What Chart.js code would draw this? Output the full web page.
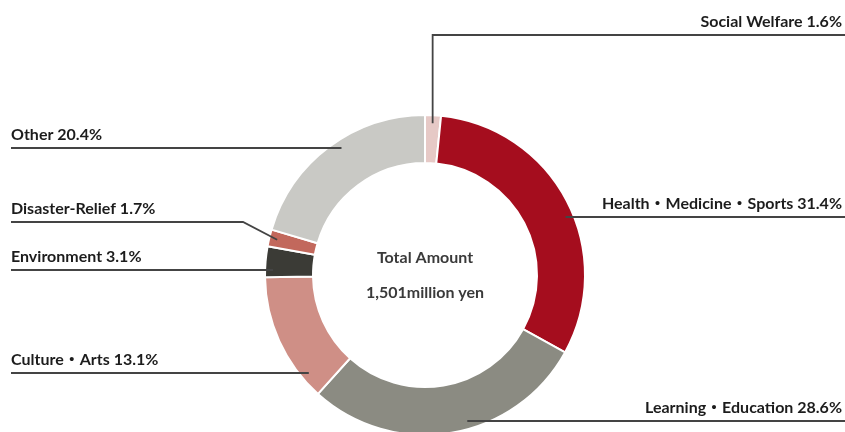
<!DOCTYPE html>
<html>
<head>
<meta charset="utf-8">
<script src="https://cdn.jsdelivr.net/npm/chart.js@4/dist/chart.umd.min.js"></script>
<style>
  html, body { margin: 0; padding: 0; background: #fff; overflow: hidden; }
  #wrap { position: relative; width: 845px; height: 440px; }
</style>
</head>
<body>
<div id="wrap"><canvas id="donationChart"></canvas></div>
<script>
// data (clockwise from 12 o'clock)
const categories = ['Social Welfare', 'Health・Medicine・Sports', 'Learning・Education', 'Culture・Arts', 'Environment', 'Disaster-Relief', 'Other'];
const shares = [1.6, 31.4, 28.6, 13.1, 3.1, 1.7, 20.4];
const sliceColors = ['#e6c9c6', '#a50d1e', '#8b8b82', '#cf8f86', '#3b3b36', '#c2685c', '#c9c9c5'];
const centerLines = ['Total Amount', '1,501million yen'];

// label layout: side, y of the leader line, how the line reaches the slice
const labelSide = ['right', 'right', 'right', 'left', 'left', 'left', 'left'];
const labelLineY = [35, 217, 421, 373, 270, 222, 148];
const labelMode = ['mid', 'row', 'row', 'row', 'row', 'mid', 'row'];
const labelBendX = [null, null, null, null, null, 243, null];

const FONT = 'bold 16px Lato, "Noto Sans CJK JP", sans-serif';

const labelPlugin = {
    id: 'leaderLabels',
    afterDraw(chart) {
        const ctx = chart.ctx;
        const arcs = chart.getDatasetMeta(0).data;
        const cx = arcs[0].x, cy = arcs[0].y;
        const r = arcs[0].outerRadius - 8;

        ctx.save();
        ctx.font = FONT;
        ctx.fillStyle = '#1c1c1c';
        ctx.strokeStyle = '#444';
        ctx.lineWidth = 1.8;

        arcs.forEach((arc, i) => {
            const y = labelLineY[i];
            let ax, ay;
            if (labelMode[i] === 'mid') {
                const a = (arc.startAngle + arc.endAngle) / 2;
                ax = cx + r * Math.cos(a);
                ay = cy + r * Math.sin(a);
            } else {
                const dx = Math.sqrt(Math.max(r * r - (y - cy) * (y - cy), 0));
                ax = labelSide[i] === 'right' ? cx + dx : cx - dx;
                ay = y;
            }
            const bendX = labelBendX[i] !== null ? labelBendX[i] : ax;
            const edgeX = labelSide[i] === 'right' ? 845 : 11;

            ctx.beginPath();
            ctx.moveTo(edgeX, y);
            ctx.lineTo(bendX, y);
            ctx.lineTo(ax, ay);
            ctx.stroke();

            const text = categories[i] + ' ' + shares[i] + '%';
            ctx.textAlign = labelSide[i] === 'right' ? 'right' : 'left';
            ctx.textBaseline = 'alphabetic';
            ctx.fillText(text, labelSide[i] === 'right' ? 842 : 11, y - 8);
        });

        ctx.font = 'bold 16px Lato, sans-serif';
        ctx.fillStyle = '#3a3a3a';
        ctx.textAlign = 'center';
        ctx.textBaseline = 'middle';
        ctx.fillText(centerLines[0], cx, cy - 17);
        ctx.fillText(centerLines[1], cx, cy + 18);
        ctx.restore();
    }
};

new Chart(document.getElementById('donationChart'), {
    type: 'doughnut',
    data: {
        labels: categories,
        datasets: [{
            data: shares,
            backgroundColor: sliceColors,
            borderColor: '#fff',
            borderWidth: 2
        }]
    },
    options: {
        responsive: true,
        maintainAspectRatio: false,
        animation: false,
        radius: 160,
        cutout: '70%',
        layout: { padding: { top: 110, left: 5, right: 0, bottom: 0 } },
        plugins: {
            legend: { display: false },
            tooltip: { enabled: false }
        }
    },
    plugins: [labelPlugin]
});
</script>
</body>
</html>
